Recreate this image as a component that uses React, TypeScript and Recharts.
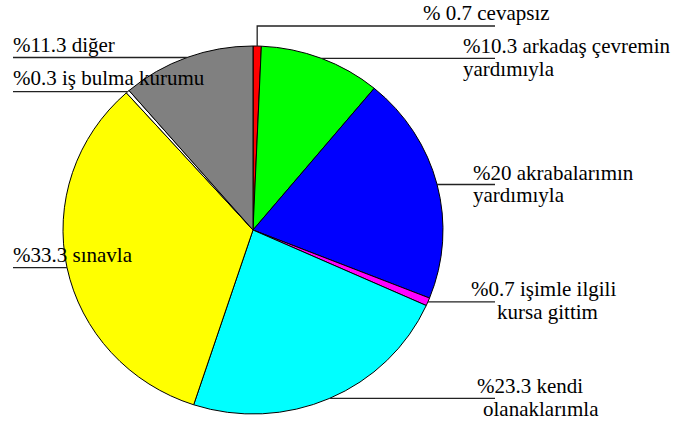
import React from 'react';
import { PieChart, Pie, Cell } from 'recharts';

// survey answers, clockwise from 12 o'clock
const names = [
  'cevapsız',
  'arkadaş çevremin yardımıyla',
  'akrabalarımın yardımıyla',
  'işimle ilgili kursa gittim',
  'kendi olanaklarımla',
  'sınavla',
  'iş bulma kurumu',
  'diğer',
];
const values = [0.7, 10.3, 20, 0.7, 23.3, 33.3, 0.3, 11.3];
const colors = ['#FF0000', '#00FF00', '#0000FF', '#FF00FF', '#00FFFF', '#FFFF00', '#FFFFFF', '#808080'];
const labelTexts = [
  ['% 0.7 cevapsız'],
  ['%10.3 arkadaş çevremin', 'yardımıyla'],
  ['%20 akrabalarımın', 'yardımıyla'],
  ['%0.7 işimle ilgili', 'kursa gittim'],
  ['%23.3 kendi', 'olanaklarımla'],
  ['%33.3 sınavla'],
  ['%0.3 iş bulma kurumu'],
  ['%11.3 diğer'],
];

const data = names.map((name, i) => ({ name, value: values[i] }));

// leader line routing + text offsets from the line end
const LEFT_X = 13;
const RIGHT_X = 495;
const labelLayout = [
  { side: 'top', topY: 26, lines: [[-72, -6]] },
  { side: 'right', lines: [[-32, -5], [-32, 18]] },
  { side: 'right', lines: [[-22, -4], [-22, 18]] },
  { side: 'right', lines: [[-24, -6], [2, 17]] },
  { side: 'right', lines: [[-18, -5], [-12, 18]] },
  { side: 'left', lines: [[0, -6]] },
  { side: 'left', lines: [[0, -7]] },
  { side: 'left', lines: [[0, -5]] },
];

const RX = 190;
const RY = 184;
const RAD = Math.PI / 180;
const FONT = 'Liberation Serif, DejaVu Serif, serif';

const onEllipse = (cx: number, cy: number, angle: number) => ({
  x: cx + RX * Math.cos(angle * RAD),
  y: cy - RY * Math.sin(angle * RAD),
});

// the original pie is slightly wider than tall
const EllipseSector = (props: any) => {
  const { cx, cy, startAngle, endAngle, fill } = props;
  const s = onEllipse(cx, cy, startAngle);
  const e = onEllipse(cx, cy, endAngle);
  const large = Math.abs(startAngle - endAngle) > 180 ? 1 : 0;
  const sweep = startAngle > endAngle ? 1 : 0;
  return (
    <path
      d={`M${cx},${cy}L${s.x},${s.y}A${RX},${RY} 0 ${large} ${sweep} ${e.x},${e.y}Z`}
      fill={fill}
      stroke="#000"
      strokeWidth={1}
    />
  );
};

const renderLabel = (props: any) => {
  const { cx, cy, midAngle, index } = props;
  const p = onEllipse(cx, cy, midAngle);
  const layout = labelLayout[index];
  let d = '';
  let ex = 0;
  let ey = p.y;
  if (layout.side === 'top') {
    d = `M${p.x},${p.y}V${layout.topY}H${RIGHT_X}`;
    ex = RIGHT_X;
    ey = layout.topY as number;
  } else if (layout.side === 'right') {
    d = `M${p.x},${p.y}H${RIGHT_X}`;
    ex = RIGHT_X;
  } else {
    d = `M${p.x},${p.y}H${LEFT_X}`;
    ex = LEFT_X;
  }
  return (
    <g key={`label-${index}`}>
      <path d={d} fill="none" stroke="#222" strokeWidth={1.3} />
      {labelTexts[index].map((t, j) => (
        <text
          key={j}
          x={ex + layout.lines[j][0]}
          y={ey + layout.lines[j][1]}
          style={{ fontFamily: FONT, fontSize: 21, fill: '#000' }}
          textAnchor="start"
        >
          {t}
        </text>
      ))}
    </g>
  );
};

export default function App() {
  return (
    <div style={{ position: 'absolute', left: 0, top: 0, width: 676, height: 423, background: '#fff', fontFamily: FONT }}>
      <PieChart width={676} height={423} margin={{ top: 0, right: 0, bottom: 0, left: 0 }}>
        <Pie
          data={data}
          dataKey="value"
          nameKey="name"
          cx={253}
          cy={230}
          outerRadius={187}
          startAngle={90}
          endAngle={-270}
          stroke="#000"
          strokeWidth={1}
          shape={EllipseSector}
          labelLine={false}
          label={renderLabel}
          isAnimationActive={false}
        >
          {data.map((entry, i) => (
            <Cell key={entry.name} fill={colors[i]} />
          ))}
        </Pie>
      </PieChart>
    </div>
  );
}
